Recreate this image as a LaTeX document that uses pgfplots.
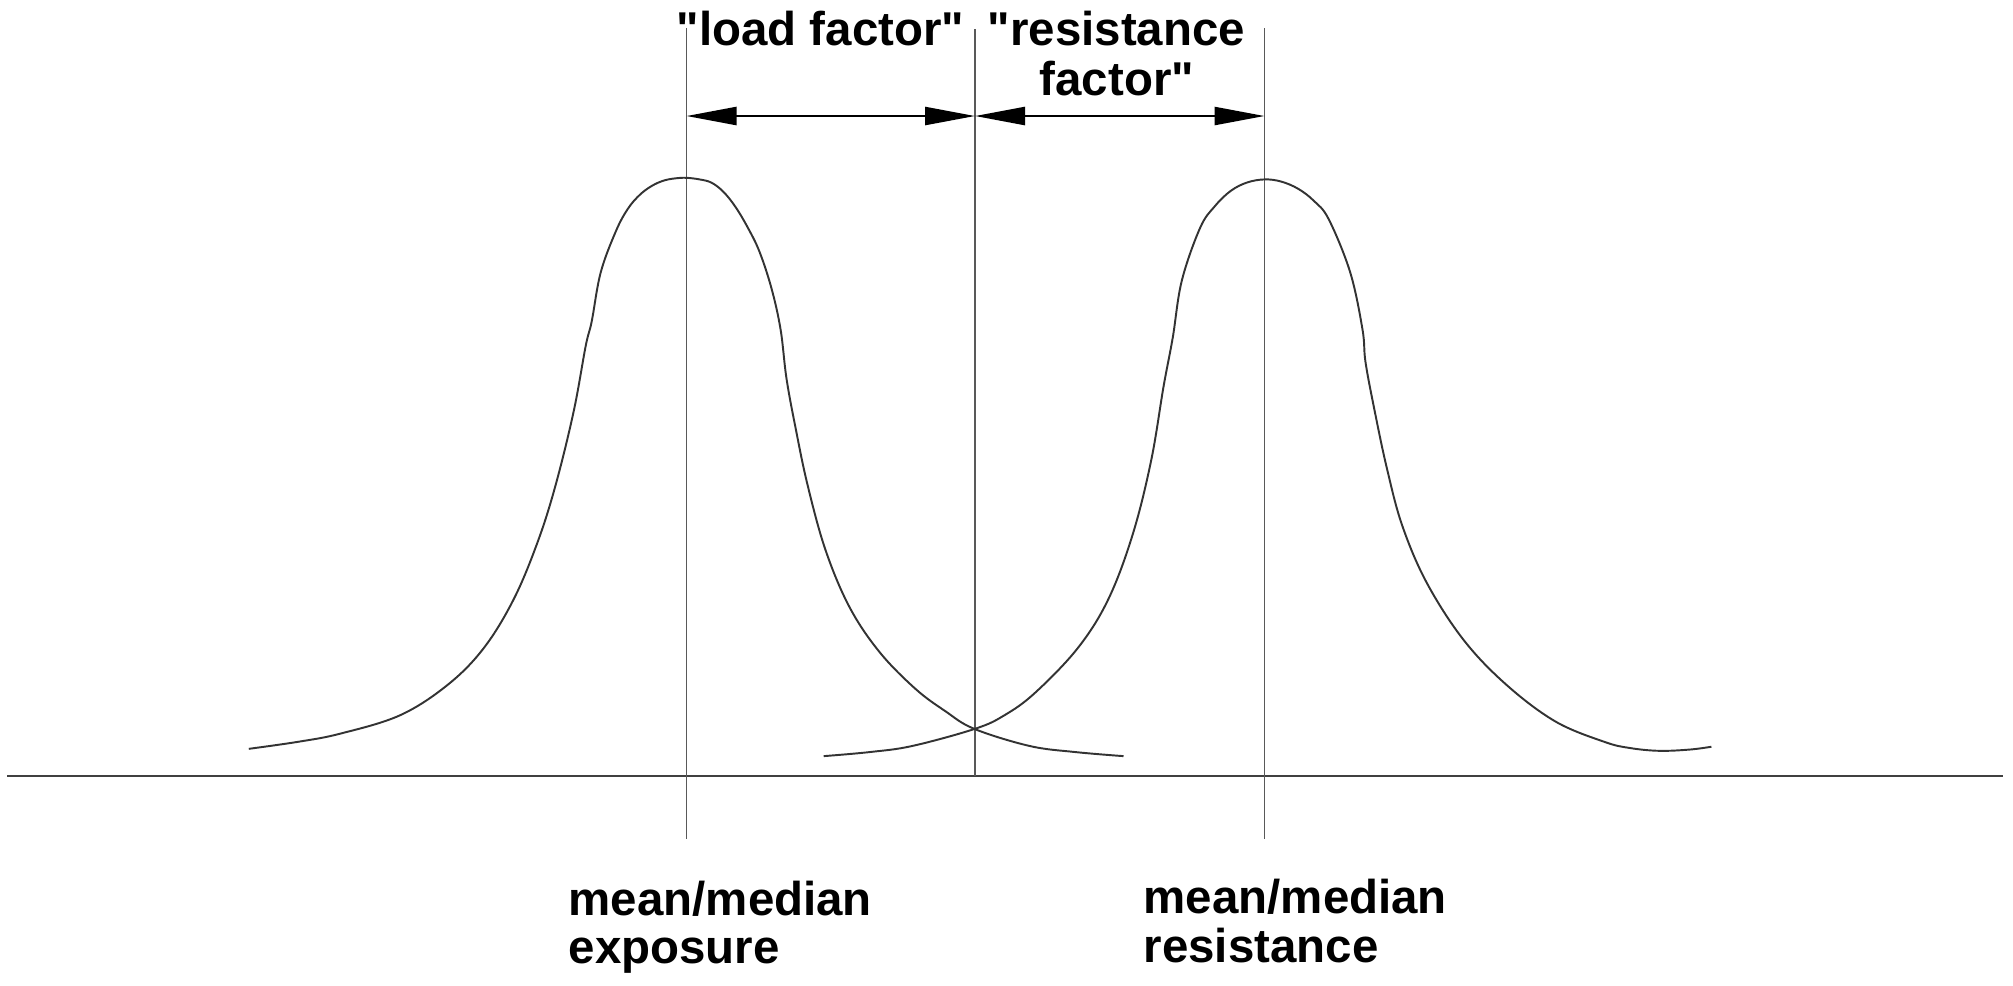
\documentclass[border=0pt]{standalone}
\usepackage{pgfplots}
\pgfplotsset{compat=1.18}
\usepackage{pgfplotstable}
\usetikzlibrary{arrows.meta}
\usepackage{fontspec}
\setmainfont{Liberation Sans}[Ligatures=TeXOff]

\pgfplotstableread{
x y
248.8 748.8
297.9 741.8
339.9 733.7
399.9 715.3
447.8 684.7
483.8 648.0
513.8 599.0
537.7 541.8
555.7 484.7
573.7 411.2
585.7 345.9
591.7 321.4
600.7 272.4
615.7 231.6
627.7 209.0
639.7 194.9
651.6 186.0
663.6 180.6
675.6 178.3
686.4 177.8
699.6 179.4
711.6 182.7
723.6 192.0
735.6 207.1
748.0 228.0
759.6 252.0
771.6 288.8
780.6 329.6
786.5 378.6
795.5 427.6
807.5 484.7
825.5 550.0
849.5 607.1
879.5 652.0
915.4 688.8
945.4 711.2
974.2 728.8
1029.4 745.9
1075.0 752.0
1123.5 756.1
}\exposure

\pgfplotstableread{
x y
823.7 756.1
870.0 752.0
912.4 745.9
974.9 728.8
1004.3 715.3
1034.9 692.9
1077.8 648.0
1108.4 599.0
1132.9 533.7
1151.2 460.2
1163.5 386.7
1172.7 337.8
1181.8 280.6
1200.2 227.6
1215.0 206.0
1230.8 190.8
1247.0 182.5
1264.5 179.4
1281.0 181.5
1298.2 188.8
1314.0 201.0
1328.8 219.4
1350.2 272.4
1362.5 329.6
1365.5 362.2
1374.7 411.2
1386.9 468.4
1402.2 525.5
1426.7 582.7
1463.5 639.8
1506.3 684.7
1555.3 721.4
1604.3 741.8
1630.0 748.0
1659.4 750.8
1690.0 749.5
1711.4 746.7
}\resistance

\tikzset{lab/.style={anchor=base west, inner sep=0pt, text=black, font=\fontsize{13.5}{16}\selectfont\bfseries}}

\begin{document}
\begin{tikzpicture}
\begin{axis}[
  width=20.13cm, height=9.85cm, scale only axis,
  xmin=0, xmax=2013, ymin=0, ymax=985, y dir=reverse,
  axis lines=none, ticks=none, clip=false,
]
\path (rel axis cs:0,0) rectangle (rel axis cs:1,1);
% baseline
\addplot[black!75, line width=0.8pt] coordinates {(7,776) (2003,776)};
% vertical lines
\addplot[black!65, line width=0.55pt] coordinates {(686.5,28) (686.5,839)};
\addplot[black!65, line width=0.55pt] coordinates {(975,29) (975,776)};
\addplot[black!65, line width=0.55pt] coordinates {(1264.5,28) (1264.5,839)};
% curves
\addplot[black!80, line width=0.55pt, smooth, tension=0.6] table {\exposure};
\addplot[black!80, line width=0.55pt, smooth, tension=0.6] table {\resistance};
% dimension arrows
\addplot[black, line width=0.7pt, {Triangle[length=5mm, width=1.8mm]}-{Triangle[length=5mm, width=1.8mm]}] coordinates {(686.5,116) (975,116)};
\addplot[black, line width=0.7pt, {Triangle[length=5mm, width=1.8mm]}-{Triangle[length=5mm, width=1.8mm]}] coordinates {(975,116) (1264.5,116)};
% labels
\node[lab] at (axis cs:676,45) {"load factor"};
\node[lab] at (axis cs:987,45) {"resistance};
\node[lab] at (axis cs:1039,95) {factor"};
\node[lab] at (axis cs:568,915) {mean/median};
\node[lab] at (axis cs:568,963) {exposure};
\node[lab] at (axis cs:1143,913) {mean/median};
\node[lab] at (axis cs:1143,962) {resistance};
\end{axis}
\end{tikzpicture}
\end{document}
